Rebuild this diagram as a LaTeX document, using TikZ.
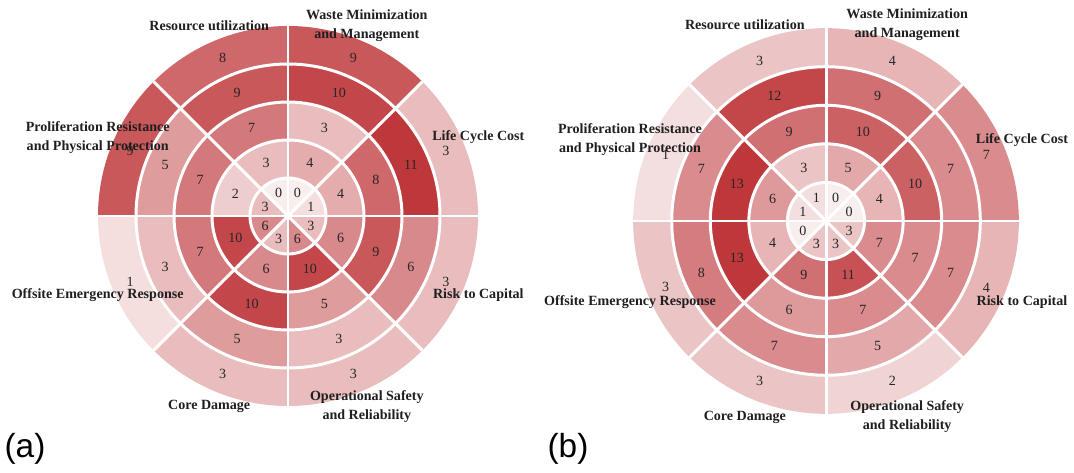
\documentclass[tikz,border=0pt]{standalone}
\usepackage{fontspec}
\setmainfont{Liberation Serif}
\newfontfamily\panelfont{Liberation Sans}
\usepackage{xcolor}
\usetikzlibrary{calc}
\definecolor{ringdark}{RGB}{190,55,58}
\definecolor{ringlight}{RGB}{249,238,238}
\tikzset{%
	ringval/.style  = {font=\fontsize{8}{8}\selectfont, text=black!85, inner sep=0pt},
	catlabel/.style = {font=\bfseries\fontsize{8}{10.8}\selectfont, align=center, text=black!88, inner sep=0pt},
	panel/.style    = {font=\panelfont\fontsize{19}{19}\selectfont, inner sep=0pt},
	divider/.style  = {white, line width=1.7pt},
}

\begin{document}
\begin{tikzpicture}
		\useasboundingbox (0,0) rectangle (21.48,9.44);
		
		% wheel (a): values per sector, outer ring first
		\begin{scope}[shift={(5.76,5.12)}]
			\def\w{0.76} \def\vmax{11} \def\rl{4.12}
			\foreach \vals [count=\s from 0] in {{3,11,8,4,1},{9,10,3,4,0},{8,9,7,3,0},{9,5,7,2,3},{1,3,7,10,6},{3,5,10,6,3},{3,3,5,10,6},{3,6,9,6,3}}
			\foreach \v [count=\k] in \vals {
				\pgfmathsetmacro\r{(6-\k)*\w}
				\pgfmathsetmacro\rm{\k==5 ? 0.65*\w : (5.5-\k)*\w}
				\pgfmathtruncatemacro\p{round(100*\v/\vmax)}
				\fill[ringdark!\p!ringlight] (0,0) -- (\s*45:\r) arc[start angle=\s*45, end angle=\s*45+45, radius=\r] -- cycle;
				\node[ringval] (va\s\k) at (\s*45+22.5:\rm) {\v};
			}
			
			\foreach \k in {1,...,4} \draw[divider] (0,0) circle[radius=\k*\w];
			\foreach \a in {0,45,...,315} \draw[divider] (0,0) -- (\a:5*\w);
			
			\foreach \ang/\txt [count=\i] in {22.5/Life Cycle Cost, 67.5/{Waste Minimization\\and Management}, 112.5/Resource utilization, 157.5/{Proliferation Resistance\\and Physical Protection}, 202.5/Offsite Emergency Response, 247.5/Core Damage, 292.5/{Operational Safety\\and Reliability}, 337.5/Risk to Capital}
			\node[catlabel] (la\i) at (\ang:\rl) {\txt};
		\end{scope}
		
		% wheel (b)
		\begin{scope}[shift={(16.52,5.02)}, scale=1.015]
			\def\w{0.76} \def\vmax{13} \def\rl{4.18}
			\foreach \vals [count=\s from 0] in {{7,7,10,4,0},{4,9,10,5,0},{3,12,9,3,1},{1,7,13,6,1},{3,8,13,4,0},{3,7,6,9,3},{2,5,7,11,3},{4,7,7,7,3}}
			\foreach \v [count=\k] in \vals {
				\pgfmathsetmacro\r{(6-\k)*\w}
				\pgfmathsetmacro\rm{\k==5 ? 0.65*\w : (5.5-\k)*\w}
				\pgfmathtruncatemacro\p{round(100*\v/\vmax)}
				\fill[ringdark!\p!ringlight] (0,0) -- (\s*45:\r) arc[start angle=\s*45, end angle=\s*45+45, radius=\r] -- cycle;
				\node[ringval] (vb\s\k) at (\s*45+22.5:\rm) {\v};
			}
			
			\foreach \k in {1,...,4} \draw[divider] (0,0) circle[radius=\k*\w];
			\foreach \a in {0,45,...,315} \draw[divider] (0,0) -- (\a:5*\w);
			
			\foreach \ang/\txt [count=\i] in {22.5/Life Cycle Cost, 67.5/{Waste Minimization\\and Management}, 112.5/Resource utilization, 157.5/{Proliferation Resistance\\and Physical Protection}, 202.5/Offsite Emergency Response, 247.5/Core Damage, 292.5/{Operational Safety\\and Reliability}, 337.5/Risk to Capital}
			\node[catlabel] (lb\i) at (\ang:\rl) {\txt};
		\end{scope}
		
		\node[panel] (pa) at (0.5,0.46) {(a)};
		\node[panel] (pb) at (11.36,0.46) {(b)};
\end{tikzpicture}
\end{document}
